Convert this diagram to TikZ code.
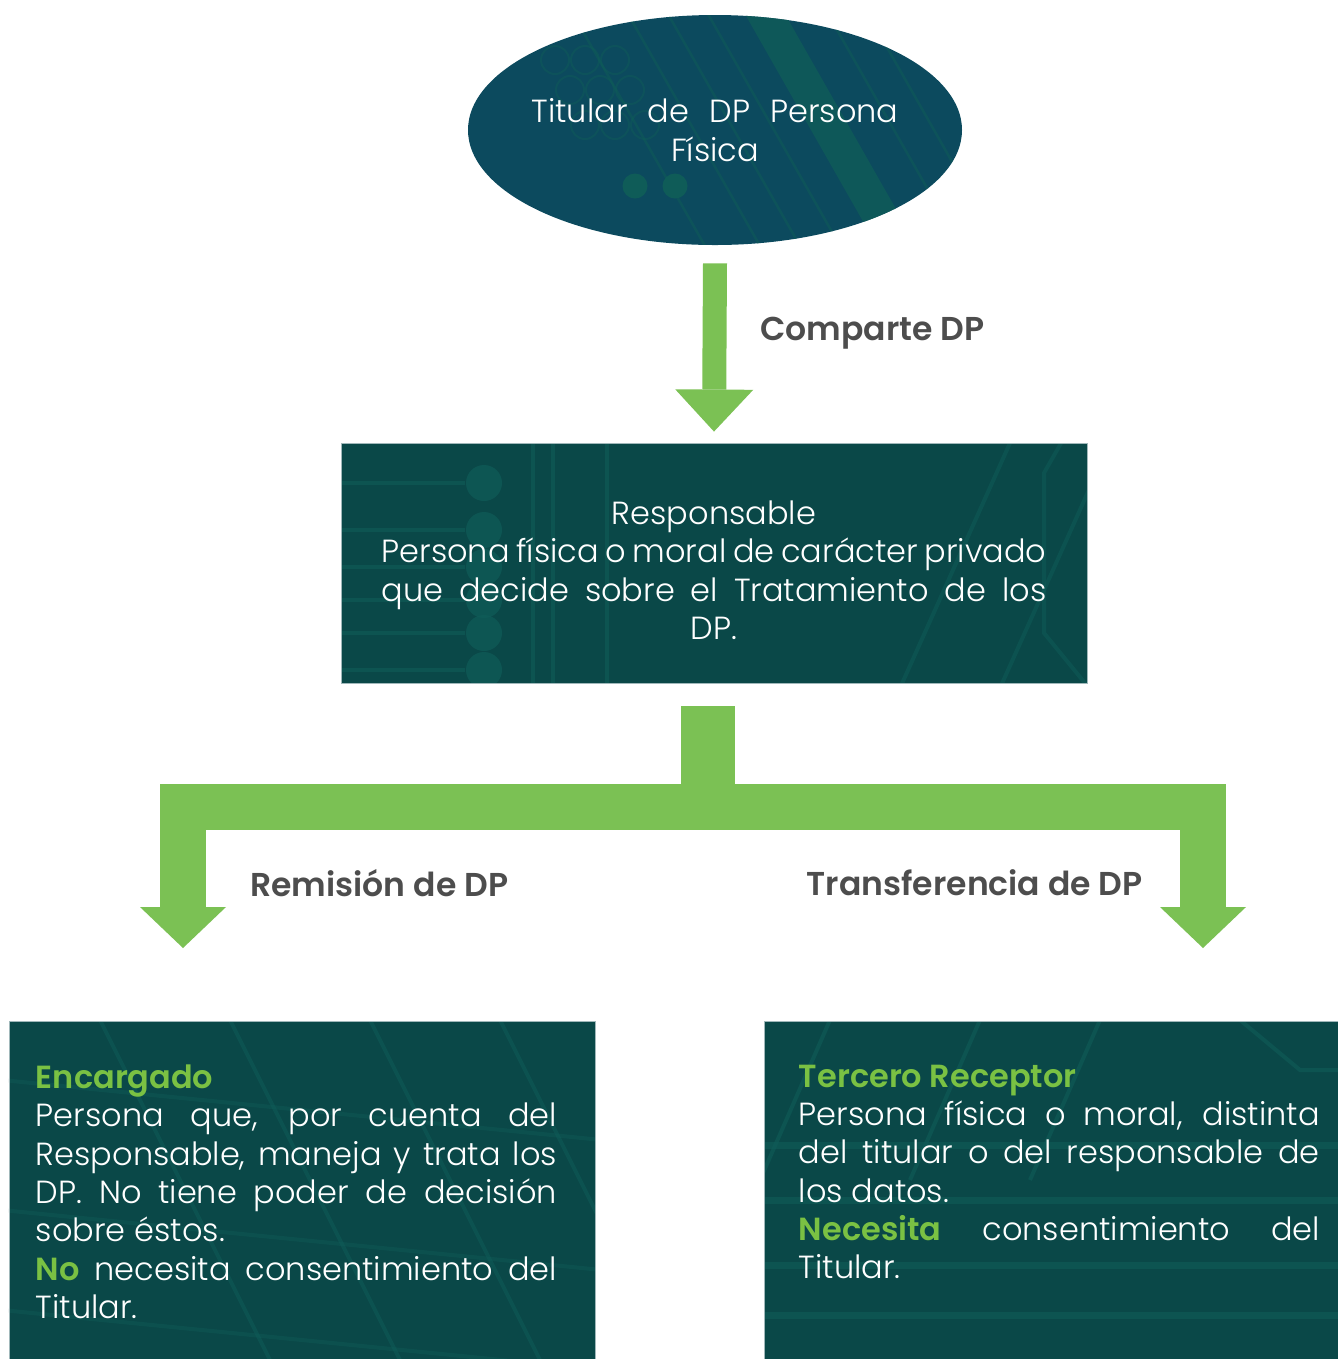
\documentclass[tikz,border=0pt]{standalone}
\usepackage{fontspec}
\IfFontExistsTF{Poppins Light}{%
  \setmainfont{Poppins}[UprightFont=* Light,BoldFont=* SemiBold]}{%
  \setmainfont{Poppins}}
\usepackage{xcolor}
\usepackage{tikz}
\usetikzlibrary{arrows.meta,positioning,shapes.geometric,calc}

\definecolor{flowgreen}{RGB}{123,193,84}
\definecolor{keygreen}{RGB}{122,193,67}
\definecolor{ovalblue}{RGB}{12,74,94}
\definecolor{boxteal}{RGB}{10,72,72}
\definecolor{traceteal}{RGB}{15,92,88}
\definecolor{edgegray}{RGB}{160,184,186}
\definecolor{labelgray}{RGB}{77,77,77}
\newcommand{\boxfont}{\fontsize{18.2}{21.8}\selectfont}
\newcommand{\jline}[2][10.42cm]{\makebox[#1][s]{#2}}
\newcommand{\key}[1]{\textbf{\color{keygreen}#1}}

\begin{document}
\begin{tikzpicture}[
            oval/.style={ellipse, minimum width=9.88cm, minimum height=4.6cm,
                 inner xsep=-.2cm, inner ysep=0pt, text=white, align=center, font=\boxfont},
            box/.style={rectangle, draw=edgegray, line width=.5pt,
                 text=white, align=center, font=\boxfont},
            txt/.style={inner sep=0pt, text=white, align=left, font=\boxfont},
            lbl/.style={inner sep=0pt, text=labelgray, font=\fontsize{18.8}{22}\selectfont\bfseries},
            flow/.style={draw=flowgreen},
            trace/.style={draw=traceteal, line width=.08cm}
            ]
            \path[use as bounding box, fill=white] (0,0) rectangle (26.76,-27.18);

            % Backgrounds with circuit traces
            \begin{scope}[shift={(14.3,-2.6)}]
                \clip (0,0) ellipse (4.94cm and 2.3cm);
                \fill[ovalblue] (-5,-2.4) rectangle (5,2.4);
                \fill[traceteal, opacity=.8] (.44,2.6) -- (1.24,2.6) -- (4.2,-2.6) -- (3.4,-2.6) -- cycle;
                \foreach \x in {-3.0,-1.9,-1.1,-.3,2.1,2.9,3.7}
                    \draw[trace, opacity=.5, line width=.05cm] (\x,2.6) -- ++(2.96,-5.2);
                \foreach \x/\y in {-3.2/1.4,-2.6/1.4,-2.0/1.4,-2.9/.8,-2.3/.8,-1.7/.8,-2.6/.1,-2.0/.1,-1.4/.1}
                    \draw[trace, opacity=.45, line width=.04cm] (\x,\y) circle (.28);
                \fill[traceteal] (-1.6,-1.12) circle (.25) (-.8,-1.12) circle (.25);
            \end{scope}
            \begin{scope}[shift={(14.28,-11.26)}]
                \clip (-7.46,-2.4) rectangle (7.46,2.4);
                \fill[boxteal] (-7.46,-2.4) rectangle (7.46,2.4);
                \foreach \y in {1.6,.66,-.08,-.74,-1.4,-2.14}{
                    \draw[trace, opacity=.6] (-7.48,\y) -- (-4.98,\y);
                    \fill[traceteal, opacity=.7] (-4.6,\y) circle (.36);}
                \foreach \x in {-3.62,-3.22,-2.14}
                    \draw[trace, opacity=.6] (\x,2.5) -- (\x,-2.5);
                \foreach \x in {3.72,5.72,8.12}
                    \draw[trace, opacity=.5] (\x,-2.5) -- ++(2.2,4.9);
                \draw[trace, opacity=.5] (7.0,2.5) -- (6.6,1.8) -- (6.6,-1.4) -- (7.5,-2.5);
            \end{scope}
            \begin{scope}[shift={(6.04,-23.8)}]
                \clip (-5.86,-3.38) rectangle (5.86,3.38);
                \fill[boxteal] (-5.86,-3.38) rectangle (5.86,3.38);
                \foreach \x in {-4.04,-1.44,1.36,3.96}
                    \draw[trace, opacity=.5] (\x,3.4) -- ++(3.4,-6.8);
                \foreach \y in {2.2,-.4,-2.4}
                    \draw[trace, opacity=.4] (-6,\y) -- (6,\y-1.2);
            \end{scope}
            \begin{scope}[shift={(21.02,-23.8)}]
                \clip (-5.74,-3.38) rectangle (5.74,3.38);
                \fill[boxteal] (-5.74,-3.38) rectangle (5.74,3.38);
                \foreach \y in {.9,-.2,-1.5,-2.5}
                    \draw[trace, opacity=.6, line width=.14cm] (-5.8,\y) -- (5.8,\y);
                \foreach \x in {-4.42,-1.42,.98}
                    \draw[trace, opacity=.6] (\x,3.4) -- ++(-1.4,-3.2);
                \draw[trace, opacity=.6] (3.78,3.4) -- (4.98,2.4) -- (5.8,2.4);
            \end{scope}

            % Nodes with manual coordinates
            \node[oval] (tit) at (14.3,-2.6) {\jline[7.34cm]{Titular de DP Persona}\\ Física};
            \node[box, minimum width=14.92cm, minimum height=4.8cm, text height=87pt] (resp) at (14.28,-11.26)
                 {Responsable\\ \jline[13.3cm]{Persona física o moral de carácter privado}\\
                  \jline[13.3cm]{que decide sobre el Tratamiento de los}\\ DP.};
            \node[box, minimum width=11.72cm, minimum height=6.76cm] (enc) at (6.04,-23.8) {};
            \node[box, minimum width=11.48cm, minimum height=6.76cm] (ter) at (21.02,-23.8) {};
            \node[txt, below right=0.88cm and 0.54cm of enc.north west] (enctxt)
                 {\key{Encargado}\\ \jline{Persona que, por cuenta del}\\
                  \jline{Responsable, maneja y trata los}\\ \jline{DP. No tiene poder de decisión}\\
                  sobre éstos.\\ \jline{\key{No} necesita consentimiento del}\\ Titular.};
            \node[txt, below right=0.88cm and 0.70cm of ter.north west] (tertxt)
                 {\key{Tercero Receptor}\\ \jline{Persona física o moral, distinta}\\
                  \jline{del titular o del responsable de}\\ los datos.\\
                  \jline{\key{Necesita} consentimiento del}\\ Titular.};

            % Labels
            \node[lbl, anchor=west] (comp) at (15.2,-6.66) {Comparte DP};
            \node[lbl, anchor=west] (rem) at (5.0,-17.66) {Remisión de DP};
            \node[lbl, anchor=east] (tra) at (22.86,-17.66) {Transferencia de DP};

            \coordinate (split) at (14.16,-16.14);
            \coordinate (remtip) at (3.66,-18.96);
            \coordinate (tratip) at (24.06,-18.96);

            % Arrows
            \draw[flow, line width=.48cm, -{Triangle[width=1.56cm, length=.84cm, line width=0pt]}]
                 ([yshift=-.36cm]tit.south) -- ([yshift=.22cm]resp.north);
            \draw[flow, line width=1.08cm] ($(resp.south -| split)+(0,-.46)$) -- (split);
            \draw[flow, line width=.92cm, {Triangle[width=1.72cm, length=.82cm, line width=0pt]}-{Triangle[width=1.72cm, length=.82cm, line width=0pt]}]
                 (remtip) |- (split) -| (tratip);
        \end{tikzpicture}
\end{document}
